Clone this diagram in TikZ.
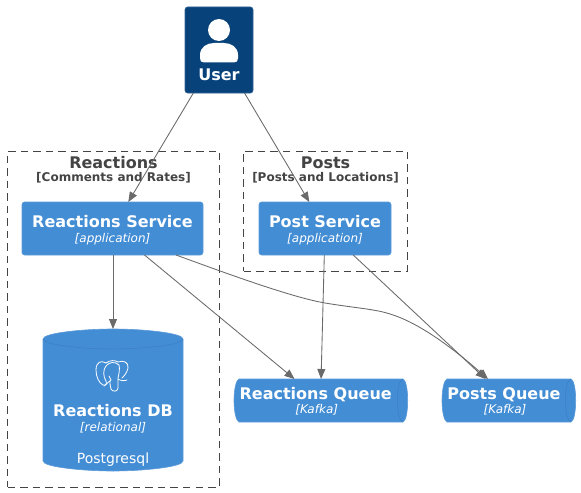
\documentclass[tikz,border=0pt]{standalone}
\usepackage{fontspec}
\setmainfont{DejaVu Sans}
\usetikzlibrary{arrows.meta}
\definecolor{elbg}{HTML}{438DD5}
\definecolor{elbd}{HTML}{5C9BDA}
\definecolor{seamc}{HTML}{3C7FC0}
\definecolor{usbg}{HTML}{08427B}
\definecolor{usbd}{HTML}{2E6295}
\definecolor{edgec}{HTML}{6A6A6A}
\definecolor{grpc}{HTML}{444444}
\tikzset{
  elembox/.style={draw=elbd,fill=elbg,rounded corners=1.9pt,line width=0.45pt,inner sep=0pt,outer sep=0pt},
  userbox/.style={draw=usbd,fill=usbg,rounded corners=1.9pt,line width=0.45pt,inner sep=0pt,outer sep=0pt},
  grpbox/.style={draw=grpc,dash pattern=on 5.6pt off 3.8pt,line width=0.75pt,inner sep=0pt,outer sep=0pt},
  hidbox/.style={inner sep=0pt,outer sep=0pt},
  ttl/.style={text=white,font=\fontsize{12}{14}\selectfont\bfseries,anchor=base,inner sep=0pt},
  sub/.style={text=white,font=\fontsize{9}{11}\selectfont\itshape,anchor=base,inner sep=0pt},
  tech/.style={text=white,font=\fontsize{10.5}{12}\selectfont,anchor=base,inner sep=0pt},
  gttl/.style={text=grpc,font=\fontsize{12}{14}\selectfont\bfseries,anchor=base,inner sep=0pt},
  gsub/.style={text=grpc,font=\fontsize{9}{11}\selectfont\bfseries,anchor=base,inner sep=0pt},
  conn/.style={draw=edgec,line width=0.65pt,-{Triangle[length=7.5pt,width=6pt]}},
  seam/.style={draw=seamc,line width=0.35pt},
  ico/.style={draw=white,line width=0.6pt,line cap=round,line join=round}
}
\begin{document}
\begin{tikzpicture}[x=0.75pt,y=-0.75pt]
\useasboundingbox (0,0) rectangle (581,492);
% boundaries
\node[grpbox,minimum width=159pt,minimum height=252pt] (grpR) at (113.5,319) {};
\node[grpbox,minimum width=123pt,minimum height=90pt] (grpP) at (325.5,211) {};
\node[gttl] (grpRt) at (113.5,168) {Reactions};
\node[gsub] (grpRs) at (113.5,181.5) {[Comments and Rates]};
\node[gttl] (grpPt) at (325.5,168) {Posts};
\node[gsub] (grpPs) at (325.5,181.5) {[Posts and Locations]};
% person
\node[userbox,minimum width=51pt,minimum height=64.5pt] (user) at (219,50) {};
\fill[white] (219,30) circle (11);
\fill[white] (204,62.5) .. controls (201,62.5) and (200,61) .. (200,58) -- (200,55) .. controls (200,47) and (207,43) .. (214,43) -- (224,43) .. controls (231,43) and (238,47) .. (238,55) -- (238,58) .. controls (238,61) and (237,62.5) .. (234,62.5) -- cycle;
\node[ttl] (userT) at (219,80) {User};
% services
\node[elembox,minimum width=135.75pt,minimum height=39.75pt] (rs) at (112.5,228.5) {};
\node[ttl] (rsT) at (112.5,227) {Reactions Service};
\node[sub] (rsS) at (112.5,242) {[application]};
\node[elembox,minimum width=99pt,minimum height=39.75pt] (ps) at (325,228.5) {};
\node[ttl] (psT) at (325,227) {Post Service};
\node[sub] (psS) at (325,242) {[application]};
% database
\node[hidbox,minimum width=105pt,minimum height=106.5pt] (db) at (113,400) {};
\path[elembox,rounded corners=0pt] (43,339) .. controls (43,333) and (83,329) .. (113,329) .. controls (143,329) and (183,333) .. (183,339) -- (183,461) .. controls (183,467) and (143,471) .. (113,471) .. controls (83,471) and (43,467) .. (43,461) -- cycle;
\draw[seam] (43,339) .. controls (43,345) and (83,349) .. (113,349) .. controls (143,349) and (183,345) .. (183,339);
% elephant icon
\draw[ico] (106,363) .. controls (101,360) and (96,362) .. (96,370) .. controls (96,377) and (99,383) .. (103,385) .. controls (106,386) and (107,384) .. (106,381) .. controls (103,377) and (103,369) .. (106,366) .. controls (109,362) and (115,361) .. (119,365) .. controls (120,369) and (119,374) .. (118,378) -- (118,388) .. controls (118,392) and (112,392) .. (111,389) .. controls (110,386) and (110,384) .. (110,381);
\draw[ico] (106,363) .. controls (110,360) and (115,360) .. (118,362) .. controls (123,360) and (129,362) .. (128,368) .. controls (127,373) and (124,376) .. (122,378);
\draw[ico] (104,386) -- (111,380) -- (109,376);
\draw[ico] (118,379) .. controls (121,381) and (125,381) .. (127,380);
% queues
\node[hidbox,minimum width=129.75pt,minimum height=32.25pt] (q1) at (320.5,400.5) {};
\path[elembox,rounded corners=0pt] (239,379) -- (403,379) .. controls (406,380) and (407.7,390) .. (407.7,400.5) .. controls (407.7,411) and (406,421) .. (403,422) -- (239,422) .. controls (236,421) and (234,411) .. (234,400.5) .. controls (234,390) and (236,380) .. (239,379) -- cycle;
\draw[seam] (403,379) .. controls (399,380) and (397.5,390) .. (397.5,400.5) .. controls (397.5,411) and (399,421) .. (403,422);
\node[ttl] (q1T) at (315.7,399) {Reactions Queue};
\node[sub] (q1S) at (316.7,413) {[Kafka]};
\node[hidbox,minimum width=99.75pt,minimum height=32.25pt] (q2) at (508.5,400.5) {};
\path[elembox,rounded corners=0pt] (447,379) -- (571,379) .. controls (574,380) and (575.7,390) .. (575.7,400.5) .. controls (575.7,411) and (574,421) .. (571,422) -- (447,422) .. controls (444,421) and (442,411) .. (442,400.5) .. controls (442,390) and (444,380) .. (447,379) -- cycle;
\draw[seam] (571,379) .. controls (567,380) and (565.5,390) .. (565.5,400.5) .. controls (565.5,411) and (567,421) .. (571,422);
\node[ttl] (q2T) at (504,399) {Posts Queue};
\node[sub] (q2S) at (505,413) {[Kafka]};
\node[tech] (dbT) at (113,416) {\bfseries\fontsize{12}{14}\selectfont Reactions DB};
\node[sub] (dbS) at (113,431) {[relational]};
\node[tech] (dbP) at (113,463) {Postgresql};
% connectors
\draw[conn] (user) -- (rs);
\draw[conn] (user) -- (ps);
\draw[conn] (rs.south -| db.north) -- (db);
\draw[conn] (rs) -- (q1);
\draw[conn] (ps) -- (q1);
\draw[conn] (ps) -- (q2);
\coordinate (cs) at (176,255);
\coordinate (ce) at (488,379);
\draw[conn] (cs) .. controls (220,271) and (290,297) .. (325,303) .. controls (355,308) and (375,309) .. (390,314) .. controls (420,323) and (455,350) .. (ce);
\end{tikzpicture}
\end{document}
